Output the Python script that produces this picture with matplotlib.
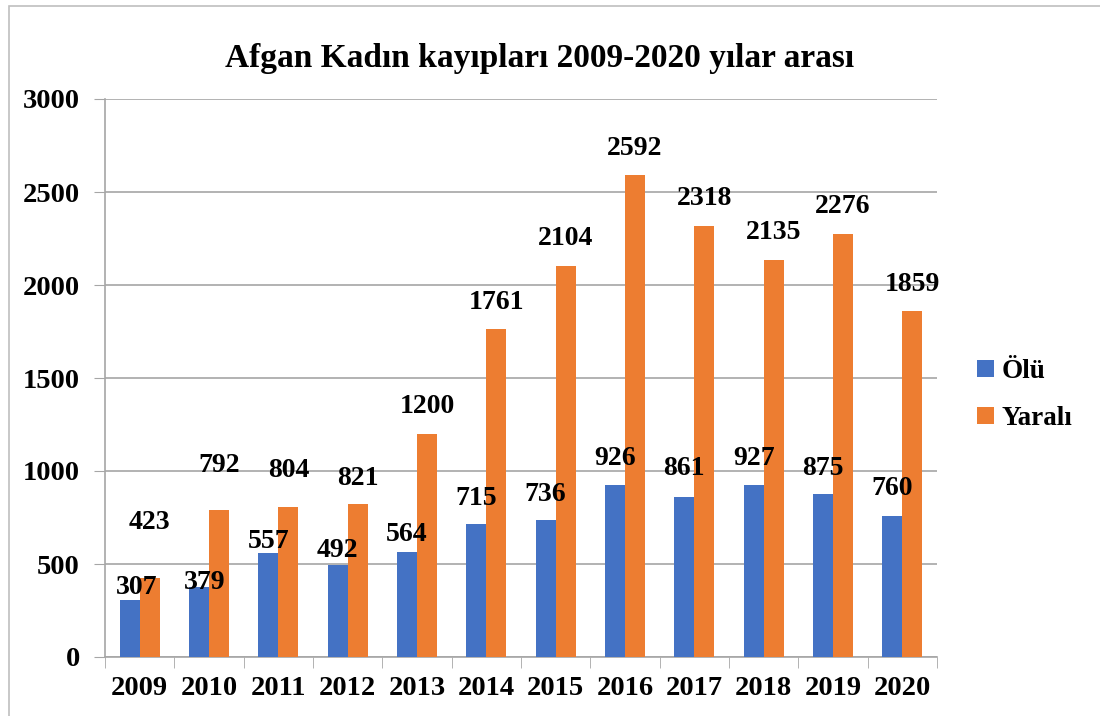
import matplotlib.pyplot as plt
from matplotlib.patches import Rectangle
import numpy as np

years = ["2009", "2010", "2011", "2012", "2013", "2014",
         "2015", "2016", "2017", "2018", "2019", "2020"]
olu = [307, 379, 557, 492, 564, 715, 736, 926, 861, 927, 875, 760]
yarali = [423, 792, 804, 821, 1200, 1761, 2104, 2592, 2318, 2135, 2276, 1859]
y_ticks = [0, 500, 1000, 1500, 2000, 2500, 3000]

title = "Afgan Kadın kayıpları 2009-2020 yılar arası"

# label offsets in pixels (Excel moved a few labels to avoid overlaps)
olu_dx = [7, 6, 0, 0, 0, 0, 0, 0, 0, 0, 0, 0]
olu_dy = [12, 4, 12, 15, 18, 26, 26, 26, 28, 26, 26, 27]
yarali_dy = [56, 44, 37, 26, 27, 27, 27, 26, 27, 27, 27, 27]

BLUE = "#4472C4"
ORANGE = "#ED7D31"
GRID = "#A6A6A6"

plt.rcParams["font.family"] = ["Liberation Serif", "DejaVu Serif"]
plt.rcParams["font.weight"] = "bold"

fig = plt.figure(figsize=(11, 7.16), dpi=100)
ax = fig.add_axes([105 / 1100, 1 - 657 / 716, 832 / 1100, 558 / 716])

x = np.arange(len(years))
w = 0.29
ax.bar(x - w / 2, olu, w, color=BLUE, label="Ölü", zorder=3)
ax.bar(x + w / 2, yarali, w, color=ORANGE, label="Yaralı", zorder=3)

for i in range(len(years)):
    ax.annotate(str(olu[i]), (x[i] - w / 2, olu[i]),
                xytext=(olu_dx[i], olu_dy[i]), textcoords="offset pixels",
                ha="center", va="center", fontsize=20, fontweight="bold",
                zorder=5)
    ax.annotate(str(yarali[i]), (x[i] + w / 2, yarali[i]),
                xytext=(0, yarali_dy[i]), textcoords="offset pixels",
                ha="center", va="center", fontsize=20, fontweight="bold",
                zorder=5)

ax.set_xlim(-0.5, len(years) - 0.5)
ax.set_ylim(0, 3000)
ax.set_yticks(y_ticks)
ax.set_yticklabels([str(t) for t in y_ticks], fontsize=20.5, fontweight="bold")
ax.set_xticks(x)
ax.set_xticklabels(years, fontsize=20.5, fontweight="bold")
ax.set_xticks(np.arange(len(years) + 1) - 0.5, minor=True)
ax.tick_params(axis="x", which="major", length=0, pad=14)
ax.tick_params(axis="x", which="minor", length=8, color=GRID, direction="out")
ax.tick_params(axis="y", length=8, color=GRID, pad=10)

ax.yaxis.grid(True, color=GRID, linewidth=1.2, zorder=0)
for side in ["top", "right"]:
    ax.spines[side].set_visible(False)
for side in ["left", "bottom"]:
    ax.spines[side].set_color(GRID)
    ax.spines[side].set_linewidth(1.2)

fig.text(540 / 1100, 1 - 58 / 716, title, ha="center", va="center",
         fontsize=24, fontweight="bold")

ax.legend(loc="center left", bbox_to_anchor=(953 / 1100, 1 - 395 / 716),
          bbox_transform=fig.transFigure, frameon=False, fontsize=19.5,
          handlelength=0.6, handleheight=0.6, handletextpad=0.3,
          labelspacing=0.8)

fig.patches.append(Rectangle((9 / 1100, -0.1), 1.2, 1.1 - 6 / 716,
                             transform=fig.transFigure, fill=False,
                             edgecolor="#BFBFBF", linewidth=1.2))

fig.savefig("out.png", dpi=100)
